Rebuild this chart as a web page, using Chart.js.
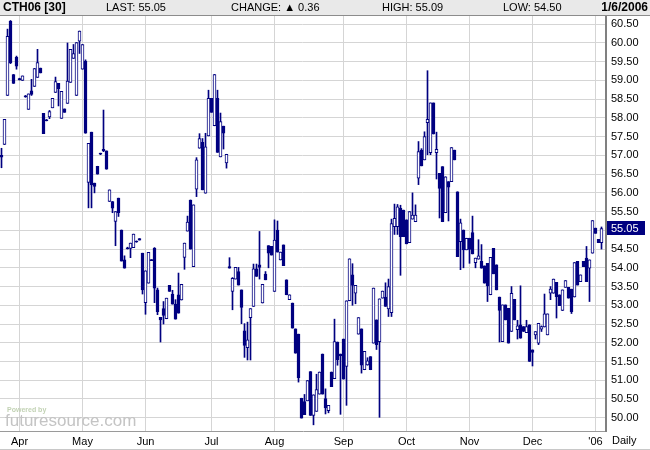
<!DOCTYPE html>
<html>
<head>
<meta charset="utf-8">
<script src="https://cdn.jsdelivr.net/npm/chart.js@4.4.1/dist/chart.umd.min.js"></script>
<style>
  html, body { margin: 0; padding: 0; background: #fff; }
  #wrap { width: 650px; height: 450px; }
</style>
</head>
<body>
<div id="wrap"><canvas id="myChart" width="650" height="450"></canvas></div>
<script>
// daily OHLC, CTH06, 23 Mar 2005 .. 6 Jan 2006
var openP = [
  57.00, 57.29, 58.60, 60.58, 59.16, 59.62, 59.05, 59.00, 58.59, 58.23,
  58.72, 58.84, 59.08, 59.33, 58.12, 57.95, 58.03, 58.27, 58.68, 58.92,
  57.99, 58.24, 58.39, 58.95, 59.59, 58.60, 60.05, 59.30, 59.52, 56.28,
  57.62, 56.26, 56.71, 57.06, 57.16, 57.12, 55.77, 55.77, 55.24, 55.86,
  55.01, 54.21, 54.53, 54.52, 54.54, 54.71, 54.78, 54.39, 53.07, 53.59,
  54.22, 54.52, 53.41, 52.68, 52.91, 52.64, 53.53, 53.30, 53.03, 53.28,
  53.14, 54.28, 54.98, 55.81, 54.03, 56.10, 57.19, 57.35, 55.99, 57.52,
  58.52, 57.79, 58.52, 56.96, 57.78, 56.80, 54.03, 53.37, 53.70, 53.90,
  53.41, 52.32, 51.87, 52.67, 52.97, 53.97, 54.08, 53.06, 53.83, 54.59,
  54.57, 53.37, 55.01, 54.21, 54.61, 53.68, 53.15, 53.06, 52.37, 52.23,
  50.52, 50.43, 50.45, 51.23, 50.06, 50.17, 50.63, 51.70, 50.51, 50.19,
  51.22, 51.04, 52.02, 51.70, 52.10, 51.37, 53.12, 53.81, 53.32, 52.23,
  52.37, 51.28, 51.41, 51.63, 51.99, 52.61, 52.03, 53.19, 53.22, 52.90,
  52.80, 55.10, 55.10, 55.59, 55.54, 55.28, 54.67, 55.30, 55.23, 56.39,
  57.14, 56.88, 57.87, 57.07, 58.40, 57.07, 56.52, 56.70, 55.47, 56.30,
  56.30, 57.14, 56.03, 54.70, 55.01, 54.48, 54.79, 54.94, 54.14, 54.23,
  54.17, 54.05, 54.12, 53.28, 54.52, 54.08, 53.22, 52.03, 53.01, 52.92,
  52.30, 53.16, 52.35, 52.48, 52.43, 52.27, 52.48, 51.81, 52.21, 51.99,
  52.36, 52.42, 52.21, 53.32, 53.32, 53.61, 53.28, 52.86, 53.48, 53.48,
  53.43, 53.22, 54.17, 53.63, 54.17, 54.26, 53.99, 54.39, 55.06, 54.76,
  54.67
];
var highP = [
  57.19, 57.96, 60.37, 60.60, 59.16, 59.65, 59.06, 59.12, 58.60, 58.64,
  59.03, 59.32, 59.83, 59.33, 58.12, 57.96, 58.20, 58.52, 59.09, 58.92,
  58.71, 58.24, 60.00, 59.83, 59.96, 60.01, 60.32, 59.96, 59.55, 57.32,
  57.62, 56.26, 56.71, 57.06, 58.21, 57.12, 56.08, 55.77, 55.50, 55.86,
  55.01, 54.32, 54.55, 54.66, 54.90, 54.72, 54.78, 54.39, 53.92, 54.41,
  54.22, 54.54, 53.46, 52.68, 53.10, 53.19, 53.53, 53.40, 53.15, 53.86,
  53.56, 54.66, 55.38, 55.81, 55.68, 56.94, 57.58, 57.45, 57.59, 58.74,
  58.52, 59.16, 58.74, 58.13, 57.78, 57.03, 54.27, 53.74, 54.01, 54.01,
  53.41, 52.51, 52.55, 52.91, 54.10, 54.10, 54.97, 53.56, 53.90, 54.59,
  54.57, 55.28, 55.25, 54.42, 54.61, 53.68, 53.28, 53.06, 52.37, 52.23,
  50.52, 50.62, 50.99, 51.23, 50.61, 51.16, 51.22, 51.70, 50.77, 50.33,
  51.22, 52.63, 52.02, 51.70, 52.10, 53.12, 54.24, 54.11, 53.53, 52.67,
  52.37, 51.77, 51.60, 51.63, 53.46, 52.61, 53.17, 53.38, 53.60, 53.70,
  55.30, 55.70, 55.69, 55.67, 55.54, 55.28, 55.50, 56.00, 55.68, 57.37,
  57.18, 57.63, 59.26, 58.40, 58.40, 57.62, 56.52, 56.70, 56.43, 56.30,
  57.21, 57.14, 56.03, 55.30, 55.01, 54.79, 54.79, 55.38, 54.26, 54.75,
  54.62, 54.05, 54.12, 54.28, 54.52, 54.08, 53.22, 53.01, 53.01, 52.92,
  53.50, 53.16, 52.60, 53.52, 52.43, 52.60, 52.48, 51.81, 52.30, 52.52,
  52.45, 53.30, 52.77, 53.50, 53.70, 53.61, 53.28, 53.41, 53.66, 53.48,
  53.43, 54.14, 54.17, 53.81, 54.17, 54.57, 54.21, 55.26, 55.06, 54.76,
  55.09
];
var lowP = [
  56.67, 57.29, 58.60, 59.45, 58.92, 59.30, 59.01, 59.00, 58.55, 58.23,
  58.60, 58.84, 59.08, 59.20, 57.58, 57.92, 57.98, 58.27, 58.68, 58.32,
  57.99, 58.15, 58.39, 58.95, 59.59, 58.60, 59.72, 59.30, 57.59, 55.60,
  55.60, 56.00, 56.50, 57.02, 57.10, 56.63, 55.77, 55.47, 54.59, 55.37,
  54.18, 53.99, 54.50, 54.27, 54.54, 54.68, 54.74, 53.30, 52.76, 53.59,
  54.19, 53.07, 52.75, 52.02, 52.50, 52.64, 53.37, 53.03, 52.63, 52.79,
  53.14, 53.96, 54.98, 54.50, 54.03, 55.90, 57.19, 56.08, 55.99, 57.52,
  58.15, 57.79, 57.08, 56.96, 57.17, 56.66, 53.99, 52.88, 53.70, 53.54,
  52.51, 51.61, 51.54, 51.54, 52.97, 53.77, 53.70, 53.06, 53.68, 54.00,
  54.34, 53.37, 54.42, 54.21, 54.06, 53.28, 53.15, 52.39, 51.72, 50.95,
  49.99, 50.08, 50.45, 50.06, 49.81, 50.17, 50.63, 50.63, 50.10, 50.13,
  50.83, 51.04, 51.40, 50.09, 51.03, 50.33, 53.12, 53.00, 53.04, 52.23,
  51.19, 51.28, 51.40, 51.28, 51.99, 51.82, 50.01, 53.19, 52.97, 52.70,
  52.70, 54.89, 54.89, 53.80, 54.83, 54.64, 54.67, 55.30, 55.23, 56.22,
  56.72, 56.88, 57.02, 57.02, 57.57, 56.37, 55.33, 55.23, 55.47, 55.25,
  56.30, 56.88, 54.30, 53.95, 54.00, 54.48, 54.12, 54.37, 54.00, 54.23,
  53.99, 53.59, 53.10, 53.28, 53.84, 53.41, 52.02, 52.03, 52.61, 51.99,
  52.30, 52.61, 52.10, 52.12, 52.30, 52.27, 51.50, 51.38, 52.10, 51.95,
  52.30, 52.42, 52.21, 53.15, 53.32, 52.66, 52.99, 52.86, 53.48, 53.19,
  52.78, 53.22, 53.54, 53.63, 54.03, 53.63, 53.10, 54.39, 54.92, 54.67,
  54.50
];
var closeP = [
  56.95, 57.96, 60.18, 59.47, 58.92, 59.38, 59.02, 59.12, 58.56, 58.64,
  58.63, 59.32, 59.48, 59.20, 57.58, 57.93, 58.17, 58.52, 58.97, 58.78,
  58.71, 58.15, 58.98, 59.83, 59.72, 60.01, 60.32, 59.96, 57.59, 57.32,
  56.21, 56.17, 56.50, 57.03, 57.12, 56.63, 56.08, 55.59, 55.50, 55.47,
  54.18, 53.99, 54.51, 54.66, 54.90, 54.69, 54.74, 53.41, 53.92, 54.41,
  54.19, 53.46, 52.83, 52.61, 52.73, 53.19, 53.37, 53.03, 52.63, 52.79,
  53.56, 54.66, 55.22, 54.50, 55.68, 56.88, 57.45, 56.08, 57.23, 58.52,
  58.15, 59.16, 57.08, 57.90, 57.59, 57.03, 53.99, 53.72, 54.01, 53.54,
  52.94, 51.93, 52.08, 52.91, 53.97, 53.77, 54.01, 53.56, 53.68, 54.39,
  54.34, 54.74, 54.42, 54.42, 54.06, 53.28, 53.28, 52.39, 51.72, 51.07,
  49.99, 50.08, 50.99, 50.06, 50.61, 50.75, 51.22, 50.63, 50.26, 50.33,
  50.83, 52.03, 51.55, 51.65, 51.03, 53.12, 54.24, 53.53, 53.53, 52.67,
  51.40, 51.77, 51.52, 51.28, 53.46, 51.95, 53.17, 53.38, 52.97, 53.50,
  55.18, 55.32, 55.63, 54.83, 54.83, 54.64, 55.50, 55.41, 55.41, 57.10,
  56.72, 57.50, 57.96, 58.40, 57.57, 57.16, 56.12, 55.23, 56.43, 56.15,
  57.21, 56.88, 54.30, 55.20, 54.48, 54.79, 54.49, 54.37, 54.26, 54.32,
  53.99, 53.59, 53.52, 54.28, 53.84, 53.41, 52.86, 53.01, 52.61, 51.99,
  53.32, 52.61, 52.45, 52.12, 52.30, 52.43, 51.50, 51.74, 52.30, 52.52,
  52.43, 52.77, 52.77, 53.43, 53.70, 53.23, 52.99, 53.41, 53.66, 53.19,
  52.83, 54.14, 53.54, 53.81, 54.03, 53.63, 54.21, 55.26, 54.92, 54.67,
  55.05
];

// x axis: month labels and the bar index of each month's first session
var monthNames = ["Apr", "May", "Jun", "Jul", "Aug", "Sep", "Oct", "Nov", "Dec", "'06"];
var monthStart = [6, 27, 48, 70, 91, 114, 135, 156, 177, 198];

// y axis tick values
var yTicks = [50, 50.5, 51, 51.5, 52, 52.5, 53, 53.5, 54, 54.5, 55,
              55.5, 56, 56.5, 57, 57.5, 58, 58.5, 59, 59.5, 60, 60.5];

// header strip
var headTitle = "CTH06 [30]";
var headDate = "1/6/2006";
var headItems = [["LAST: 55.05", 106], ["CHANGE: \u25B2 0.36", 231], ["HIGH: 55.09", 382], ["LOW: 54.50", 503]];

var NAVY = "#000080";
var FONT = "'Liberation Sans', Arial, sans-serif";

var labels = [];
for (var i = 0; i <= openP.length; i++) labels.push(String(i)); // one spare slot at the right edge

var wickData = [];
var bodyData = [];
var bodyFill = [];
for (i = 0; i < openP.length; i++) {
  wickData.push([Math.min(lowP[i], openP[i], closeP[i]), Math.max(highP[i], openP[i], closeP[i])]);
  bodyData.push([openP[i], closeP[i]]);
  bodyFill.push(closeP[i] > openP[i] ? "#ffffff" : NAVY);
}

var decor = {
  id: "decor",
  beforeDraw: function(chart) {
    var c = chart.ctx;
    c.save();
    c.fillStyle = "#ffffff";
    c.fillRect(0, 0, chart.width, chart.height);
    c.restore();
  },
  afterDraw: function(chart) {
    var c = chart.ctx;
    var y = chart.scales.y;
    c.save();

    // header
    c.fillStyle = "#e9e9e9";
    c.fillRect(0, 0, 650, 16);
    c.strokeStyle = "#8c8c8c";
    c.lineWidth = 1;
    c.beginPath();
    c.moveTo(0, 15.5);
    c.lineTo(650, 15.5);
    c.stroke();
    c.fillStyle = "#000";
    c.textBaseline = "middle";
    c.font = "bold 12px " + FONT;
    c.textAlign = "left";
    c.fillText(headTitle, 3, 8);
    c.textAlign = "right";
    c.fillText(headDate, 648, 8);
    c.font = "11px " + FONT;
    c.textAlign = "left";
    headItems.forEach(function(h) { c.fillText(h[0], h[1], 8); });

    // watermark
    c.fillStyle = "#c2d2b4";
    c.font = "bold 7px " + FONT;
    c.fillText("Powered by", 7, 410);
    c.fillStyle = "#c4c4c4";
    c.font = "17px " + FONT;
    c.fillText("futuresource.com", 5, 421);

    // last value marker on the axis
    var last = closeP[closeP.length - 1];
    var py = Math.round(y.getPixelForValue(last));
    c.fillStyle = NAVY;
    c.fillRect(607, py - 7, 38, 14);
    c.fillStyle = "#fff";
    c.font = "11px " + FONT;
    c.fillText(last.toFixed(2), 611, py + 0.5);

    // period label and bottom frame
    c.fillStyle = "#000";
    c.fillText("Daily", 612, 441);
    c.strokeStyle = "#c8c8c8";
    c.beginPath();
    c.moveTo(0, 449.5);
    c.lineTo(650, 449.5);
    c.stroke();
    c.restore();
  }
};

var ctx = document.getElementById("myChart").getContext("2d");
var chart = new Chart(ctx, {
  type: "bar",
  data: {
    labels: labels,
    datasets: [
      {
        label: "range",
        data: wickData,
        backgroundColor: NAVY,
        barThickness: 1,
        grouped: false,
        order: 2
      },
      {
        label: "body",
        data: bodyData,
        backgroundColor: bodyFill,
        borderColor: NAVY,
        borderWidth: 1,
        borderSkipped: false,
        barThickness: 3,
        grouped: false,
        order: 1
      }
    ]
  },
  options: {
    responsive: false,
    animation: false,
    layout: { padding: { top: 16, left: 0, right: 0, bottom: 0 } },
    plugins: { legend: { display: false }, tooltip: { enabled: false } },
    scales: {
      x: {
        type: "category",
        offset: true,
        grid: { offset: false, color: "#d5d5d5", lineWidth: 1, drawTicks: false },
        border: { color: "#9a9a9a", width: 1 },
        ticks: {
          autoSkip: false,
          maxRotation: 0,
          padding: 4,
          color: "#000",
          font: { family: FONT, size: 11 },
          callback: function(v, idx) {
            var k = monthStart.indexOf(idx);
            return k >= 0 ? monthNames[k] : null;
          }
        },
        afterFit: function(s) { s.height = 19; }
      },
      y: {
        position: "right",
        min: 49.645,
        max: 60.72,
        afterBuildTicks: function(s) {
          s.ticks = yTicks.map(function(v) { return { value: v }; });
        },
        grid: { color: "#d5d5d5", lineWidth: 1, drawTicks: false },
        border: { color: "#808080", width: 2 },
        ticks: {
          padding: 5,
          color: "#000",
          font: { family: FONT, size: 11 },
          callback: function(v) { return Number(v).toFixed(2); }
        },
        afterFit: function(s) { s.width = 44; }
      }
    }
  },
  plugins: [decor]
});
</script>
</body>
</html>
